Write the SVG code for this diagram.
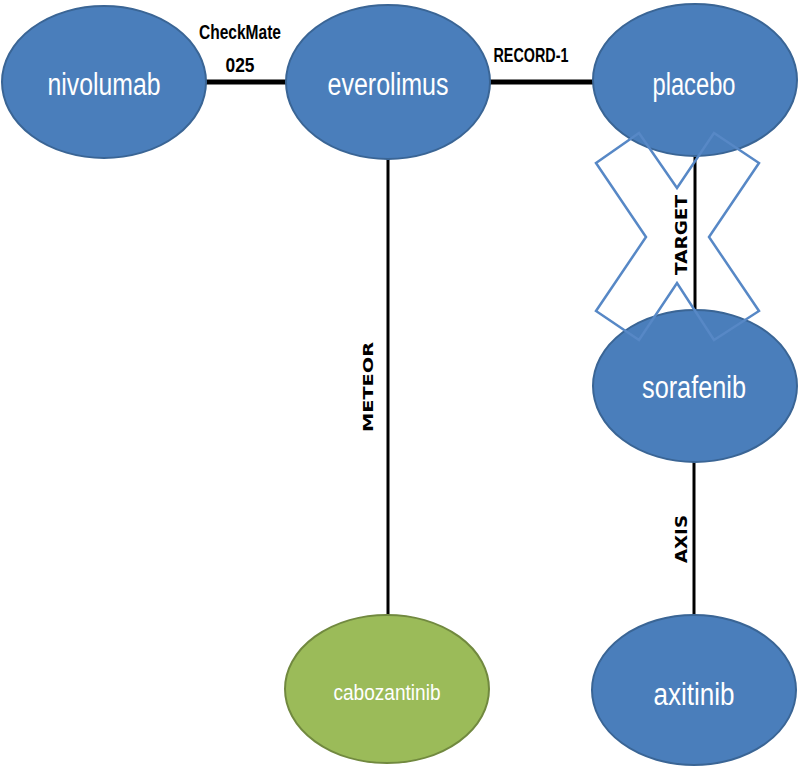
<svg xmlns="http://www.w3.org/2000/svg" width="798" height="767" viewBox="0 0 798 767">
<style>
.blue{fill:#4A7EBB;stroke:#3A6595;stroke-width:2}
.green{fill:#9BBB59;stroke:#71893F;stroke-width:2}
.nt{font-family:"Liberation Sans",Arial,sans-serif;fill:#FFFFFF;text-anchor:middle}
.el{font-family:"Liberation Sans",Arial,sans-serif;font-weight:bold;fill:#000;text-anchor:middle}
.vl{font-family:"DejaVu Sans",Verdana,sans-serif;font-weight:bold;fill:#000;text-anchor:middle}
.ln{stroke:#000;fill:none}
</style>
<rect width="798" height="767" fill="#FFFFFF"/>
<g id="connectors">
<line class="ln" x1="206" y1="82" x2="287" y2="82" stroke-width="5"/>
<line class="ln" x1="489" y1="82" x2="594" y2="82" stroke-width="5"/>
<line class="ln" x1="388" y1="158" x2="388" y2="616" stroke-width="3"/>
<line class="ln" x1="695" y1="156" x2="695" y2="312" stroke-width="3"/>
<line class="ln" x1="694" y1="461" x2="694" y2="617" stroke-width="3"/>
<text class="el" x="240" y="39" font-size="21" textLength="82" lengthAdjust="spacingAndGlyphs">CheckMate</text>
<text class="el" x="240" y="72" font-size="21" textLength="29" lengthAdjust="spacingAndGlyphs">025</text>
<text class="el" x="531" y="62" font-size="21" textLength="75" lengthAdjust="spacingAndGlyphs">RECORD-1</text>
<text class="vl" transform="translate(373,387) rotate(-90)" x="0" y="0" font-size="14" textLength="90" lengthAdjust="spacingAndGlyphs">METEOR</text>
<text class="vl" transform="translate(687,235) rotate(-90)" x="0" y="0" font-size="15" textLength="80" lengthAdjust="spacingAndGlyphs">TARGET</text>
<text class="vl" transform="translate(687,539) rotate(-90)" x="0" y="0" font-size="15" textLength="48" lengthAdjust="spacingAndGlyphs">AXIS</text>
</g>
<g id="nivolumab">
<ellipse class="blue" cx="104" cy="82" rx="102" ry="76"/>
<text class="nt" x="104" y="95" font-size="31" textLength="113" lengthAdjust="spacingAndGlyphs">nivolumab</text>
</g>
<g id="everolimus">
<ellipse class="blue" cx="388" cy="82" rx="102" ry="77"/>
<text class="nt" x="388" y="95" font-size="31" textLength="121" lengthAdjust="spacingAndGlyphs">everolimus</text>
</g>
<g id="placebo">
<ellipse class="blue" cx="695" cy="80" rx="102" ry="76"/>
<text class="nt" x="694" y="95" font-size="31" textLength="83" lengthAdjust="spacingAndGlyphs">placebo</text>
</g>
<g id="sorafenib">
<ellipse class="blue" cx="695" cy="386" rx="102" ry="76"/>
<text class="nt" x="694" y="398" font-size="31" textLength="104" lengthAdjust="spacingAndGlyphs">sorafenib</text>
</g>
<g id="axitinib">
<ellipse class="blue" cx="694" cy="690" rx="102" ry="75"/>
<text class="nt" x="694" y="705" font-size="31" textLength="81" lengthAdjust="spacingAndGlyphs">axitinib</text>
</g>
<g id="cabozantinib">
<ellipse class="green" cx="387" cy="689" rx="102" ry="74"/>
<text class="nt" x="387" y="700" font-size="22" textLength="107" lengthAdjust="spacingAndGlyphs">cabozantinib</text>
</g>
<g id="target-marker">
<polygon points="596,163 639,133 677,188 714,133 759,163 709,237 759,311 714,340 677,283 639,340 596,311 646,237" fill="none" stroke="#5788C6" stroke-width="2.5" stroke-linejoin="miter"/>
</g>
</svg>
